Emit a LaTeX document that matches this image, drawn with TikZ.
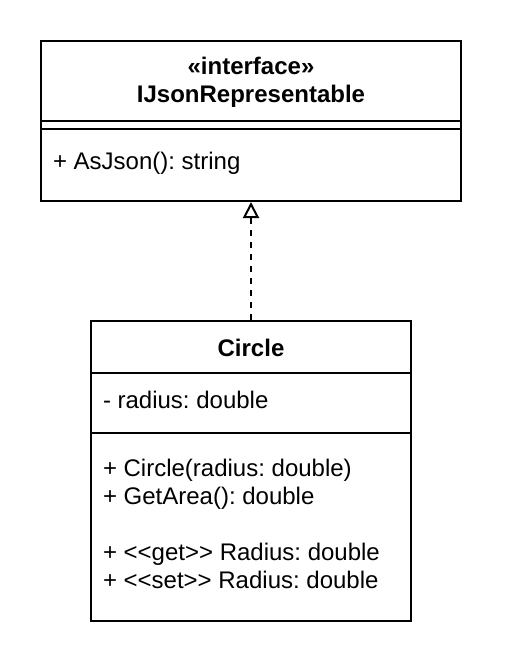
\documentclass[tikz,border=0pt]{standalone}
\usepackage{fontspec}
\setmainfont{Liberation Sans}
\usetikzlibrary{arrows.meta, positioning}
\frenchspacing

\begin{document}
\begin{tikzpicture}[x=0.75pt, y=-0.75pt, line width=1.5pt, font=\fontsize{18pt}{21pt}\selectfont,
    umlbox/.style={draw, rectangle, inner sep=0pt},
    member/.style={anchor=west, inner sep=0pt, align=left},
    realize/.style={dashed, dash pattern=on 4.5pt off 4.5pt, -{Triangle[open, width=12pt, length=12pt]}}]
	     %
             \useasboundingbox (0,0) rectangle (504,668);
             \node[umlbox, minimum width=315pt, minimum height=120pt] (iface) at (251,121) {};
             \node[align=center, inner sep=0pt] (ifacename) at (251,82) {\textbf{«interface»}\\\textbf{IJsonRepresentable}};
             \node[member] (asjson) at (52,163) {+ AsJson(): string};
             \draw (iface.west |- 0,121) -- (iface.east |- 0,121);
             \draw (iface.west |- 0,129) -- (iface.east |- 0,129);
             %
             \node[umlbox, minimum width=240pt, minimum height=225pt] (circle) at (251,471) {};
             \node[inner sep=0pt] (circlename) at (251,348) {\textbf{Circle}};
             \node[member] (radius) at (102,400) {- radius: double};
             \node[member] (methods) at (102,524) {+ Circle(radius: double)\\+ GetArea(): double\\[21pt]+ <{}<get>{}> Radius: double\\+ <{}<set>{}> Radius: double};
             \draw (circle.west |- 0,373) -- (circle.east |- 0,373);
             \draw (circle.west |- 0,433) -- (circle.east |- 0,433);
             %
             \path[realize] (circle) edge[] (iface);
          \end{tikzpicture}
\end{document}
